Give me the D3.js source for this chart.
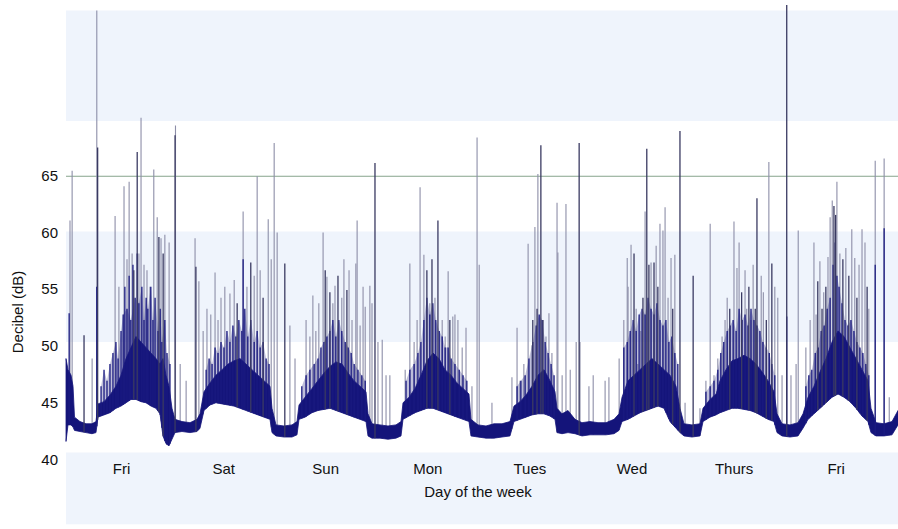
<!DOCTYPE html>
<html>
<head>
<meta charset="utf-8">
<script src="https://cdn.jsdelivr.net/npm/d3@7"></script>
<style>
  body { margin: 0; background: #fff; }
  svg { display: block; }
  text { font-family: "Liberation Sans", Arial, sans-serif; fill: #111; }
</style>
</head>
<body>
<div id="chart"></div>
<script>
// hours are counted from Friday 00:00
const dayLabels = ["Fri", "Sat", "Sun", "Mon", "Tues", "Wed", "Thurs", "Fri"];
const yTicks = [40, 45, 50, 55, 60, 65];
const limitDb = 65;

// lower edge of the trace and top of the dense core
const sampleHour = [-0.94, -0.47, 0.24, 0.71, 1.06, 2.35, 3.76, 5.17, 6.11, 6.58, 7.99, 9.4, 10.81, 11.99, 13.17, 14.34, 15.52, 16.69, 17.87, 19.04, 20.22, 21.16, 21.86, 22.57, 23.27, 23.98,
  24.69, 26.33, 28.21, 29.86, 30.56, 31.5, 32.91, 34.32, 35.74, 37.15, 38.56, 39.97, 41.38, 42.79, 44.2, 45.61, 47.02, 47.49,
  48.43, 50.31, 52.19, 53.37, 53.84, 55.25, 56.89, 58.3, 59.72, 61.13, 62.54, 63.95, 65.36, 66.77, 68.18, 69.59, 70.06,
  71.0, 72.88, 74.76, 76.64, 77.82, 78.29, 79.7, 81.11, 82.52, 83.93, 85.34, 86.75, 88.16, 89.57, 90.98, 92.39, 93.8, 94.27,
  95.92, 97.8, 99.68, 101.56, 103.44, 104.38, 105.8, 107.21, 108.62, 110.03, 111.44, 112.85, 114.02, 114.49, 115.67, 117.08, 118.73,
  120.37, 122.25, 124.13, 126.02, 127.9, 129.07, 129.78, 131.19, 132.6, 134.01, 135.42, 136.83, 138.24, 139.65, 141.06, 142.47, 143.41,
  144.35, 146.23, 148.11, 148.82, 150.46, 151.87, 152.82, 154.23, 155.64, 157.05, 158.46, 159.87, 161.28, 162.69, 164.1, 165.51, 166.22,
  167.39, 169.27, 171.15, 172.33, 173.51, 174.91, 176.33, 177.74, 179.15, 180.56, 181.97, 183.38, 184.79, 186.2, 187.61, 188.31,
  189.49, 191.37, 193.25, 194.66];
const floorDb = [41, 42.5, 42.5, 42.3, 42, 41.9, 41.8, 41.7, 41.8, 43.2, 43.4, 43.6, 44, 44.2, 44.5, 44.8, 44.8, 44.6, 44.5, 44.2, 44, 43.5, 41.5, 40.8, 40.6, 41.2,
  41.8, 41.9, 41.8, 41.9, 42.2, 43.8, 44.3, 44.5, 44.4, 44.3, 44.2, 44, 43.8, 43.6, 43.4, 43.2, 43, 41.8,
  41.5, 41.4, 41.4, 41.6, 43, 43.2, 43.6, 43.8, 43.9, 44, 43.8, 43.6, 43.4, 43.2, 43, 42.8, 41.5,
  41.3, 41.3, 41.2, 41.3, 41.5, 43, 43.3, 43.6, 43.8, 44, 44, 43.8, 43.6, 43.4, 43.2, 43, 42.8, 41.5,
  41.4, 41.3, 41.3, 41.4, 41.5, 42.8, 43, 43.2, 43.4, 43.5, 43.5, 43.3, 43, 41.8, 41.7, 41.8, 41.7,
  41.5, 41.6, 41.6, 41.6, 41.7, 42, 42.8, 43, 43.3, 43.6, 43.8, 44, 44.2, 44, 42.8, 42.2, 41.8,
  41.5, 41.4, 41.5, 42.8, 43.2, 43.4, 43.6, 43.8, 44, 44, 43.9, 43.8, 43.6, 43.3, 43, 42.8, 41.8,
  41.5, 41.4, 41.5, 42.2, 43, 43.5, 44, 44.5, 45, 45.3, 45, 44.6, 44, 43.3, 42.8, 41.8,
  41.5, 41.5, 41.6, 42.5];
const coreDb = [48.5, 47.5, 47, 46, 43.2, 42.8, 42.6, 42.6, 42.8, 44.4, 44.6, 45.2, 46, 47, 48.5, 49.5, 50.5, 50, 49.5, 49, 48.5, 48, 48.5, 47, 46, 44,
  43, 42.8, 42.7, 43, 43.5, 45.5, 46.3, 47, 47.5, 48, 48.3, 48.5, 48, 47.5, 47, 46.5, 46, 44,
  42.5, 42.4, 42.5, 42.8, 44.3, 45, 45.8, 46.5, 47.2, 47.8, 48.2, 48, 47.2, 46.5, 46, 45.5, 43.5,
  42.6, 42.5, 42.4, 42.5, 42.8, 44.5, 45, 45.8, 47, 48.3, 49, 48.5, 47.5, 47, 46.3, 45.8, 45.3, 43,
  42.5, 42.4, 42.6, 42.6, 42.8, 44.2, 44.6, 45.2, 46, 47, 47.5, 46.5, 45.5, 44, 43.5, 43.8, 43,
  42.7, 42.8, 42.7, 42.7, 43, 43.5, 45, 46.5, 47, 47.5, 48, 48.5, 48, 47.5, 47, 46, 44,
  42.6, 42.5, 42.6, 44, 44.8, 45.3, 46.5, 47.5, 48.3, 48.5, 48.8, 48.5, 48, 47.3, 46.5, 45.5, 43.5,
  42.6, 42.5, 42.7, 43.5, 45, 46, 47.3, 48.5, 50, 51, 50.5, 49.5, 48.5, 47.5, 46.5, 44,
  42.7, 42.6, 42.8, 43.8];

// isolated peaks, [hour, dB]
const greySpikes = [[0.0, 61], [0.5, 65.5], [5.2, 48.5], [6.3, 80], [10.6, 61.4], [11.5, 55], [12.7, 64.1], [13.4, 57.5], [13.9, 64.5], [14.6, 58],
  [16.2, 58], [16.7, 70.3], [17.4, 57], [18.1, 56.5], [18.8, 55], [19.7, 65.6], [20.5, 61.3], [21.4, 59.4], [22.3, 59.7], [23.3, 59],
  [24.8, 69.6], [25.9, 48], [27.3, 46.5], [29.4, 59.4], [30.3, 55.5],
  [31.3, 51], [32.2, 53], [33.1, 52.5], [34.1, 56.3], [34.8, 52], [35.5, 54], [36.4, 55], [37.6, 54.4], [38.6, 55.6], [40.7, 61.8],
  [41.6, 55], [43.3, 56], [44.0, 65], [44.7, 56.5], [46.6, 61.1], [47.3, 57.5], [48.0, 68], [48.7, 59.9], [51.7, 51.5], [52.9, 48.5],
  [55.5, 52], [56.4, 50.5], [57.1, 54.2], [57.8, 51], [58.5, 53.5], [59.5, 59.9], [60.4, 55.9], [61.8, 53.5], [62.3, 55.1], [63.9, 54],
  [64.4, 57.5], [65.6, 56.5], [66.3, 52], [67.2, 57.1], [67.5, 61], [68.2, 51.5], [68.9, 55], [69.4, 53.2], [70.5, 55.1], [71.0, 53.5],
  [72.4, 50], [73.4, 50.2], [74.3, 47], [75.2, 47],
  [78.8, 47.5], [79.9, 57.1], [80.9, 50], [81.6, 52], [82.3, 64], [83.2, 57.9], [84.6, 53.5], [85.8, 54], [87.5, 52], [88.2, 50.5],
  [88.9, 56.4], [90.0, 52.3], [90.5, 52.5], [91.2, 52], [92.2, 49.5], [93.1, 51.3], [94.5, 46], [95.7, 68.5], [96.2, 57], [99.2, 44.5],
  [103.9, 46.8], [105.1, 51.3], [105.8, 46.5], [106.7, 48], [107.7, 58.9], [108.6, 49.7], [109.3, 60.4], [110.0, 65.2], [111.9, 50.5],
  [112.6, 52.6], [113.3, 49], [114.5, 62.6], [114.7, 58.1], [115.7, 47], [116.6, 62.5], [117.6, 47.5], [119.0, 50], [119.9, 50],
  [122.0, 46], [123.0, 47], [125.8, 46.5], [126.7, 46.8], [129.1, 48.5],
  [130.2, 52], [131.0, 57.6], [131.2, 55], [131.9, 58.8], [133.1, 53], [133.5, 48], [134.2, 51], [135.2, 61.8], [136.6, 57.2], [137.8, 58.7],
  [138.7, 60.7], [139.4, 60.1], [139.9, 62.2], [140.6, 54], [141.3, 57.6], [142.2, 57.9], [144.6, 44.5], [148.1, 44], [149.5, 46.5],
  [150.5, 60.7], [151.4, 47],
  [152.3, 48.5], [153.3, 50.5], [154.0, 52], [154.5, 54], [156.1, 60.9], [156.8, 56.7], [157.3, 59], [158.7, 56.5], [159.1, 53], [160.1, 52],
  [160.6, 57], [162.5, 56], [163.0, 54.5], [164.3, 66.3], [165.7, 55], [166.4, 54], [167.4, 47], [169.5, 47], [170.7, 48], [171.2, 60.1],
  [173.0, 49.5], [174.0, 52], [174.9, 59], [175.4, 52.5], [176.3, 57.3], [177.2, 54.5], [178.2, 57.7], [178.7, 61.3], [179.2, 62.8],
  [180.3, 64.5], [181.0, 58], [182.4, 58.5], [183.8, 60.2], [184.5, 57.6], [185.5, 57], [186.2, 60.2], [186.9, 59], [187.8, 53],
  [189.3, 66.4], [191.4, 66.6], [192.6, 45]];

const darkSpikes = [[3.3, 50.6], [6.5, 67.6], [15.0, 56.5], [15.8, 67.2], [20.9, 59.5], [21.9, 58], [24.7, 68.7], [29.6, 56.8],
  [39.3, 53.5], [42.5, 57.2], [45.4, 54], [50.5, 57.1], [60.0, 56.5], [61.1, 54.5], [63.0, 56], [65.1, 54.7], [71.7, 66.2],
  [83.9, 56.5], [85.1, 57.5], [86.5, 61], [89.3, 52], [108.8, 52], [109.8, 53], [110.7, 67.8], [111.2, 52], [119.7, 68],
  [132.6, 58], [134.7, 54], [135.6, 67.5], [136.1, 57], [137.3, 57.2], [138.2, 55], [141.7, 53], [143.4, 69.1], [146.5, 56],
  [155.1, 53], [157.9, 54.5], [159.6, 55], [161.1, 53], [161.5, 63], [163.7, 52], [165.0, 57.1], [168.5, 80.5],
  [175.8, 55.5], [176.8, 53], [177.7, 55], [179.6, 62.3], [180.0, 61.5], [181.7, 57.5], [183.1, 56], [185.0, 54], [187.4, 55]];

// dense navy bursts inside the busy hours
const clusterSpikes = [[-0.2, 52.6], [6.3, 55], [7.3, 46], [8.0, 47.5], [8.7, 46.5], [9.4, 48], [10.1, 49], [10.8, 50], [11.3, 48.5], [12.0, 51],
  [12.5, 52.5], [12.9, 55], [13.4, 53], [13.9, 56], [14.3, 52], [14.8, 57], [15.3, 54], [15.8, 58], [16.2, 53.5], [16.9, 55], [17.4, 52],
  [17.9, 54], [18.3, 53], [19.0, 55], [19.5, 52], [20.0, 54], [20.7, 51], [21.2, 53], [21.6, 50], [22.3, 52], [22.8, 49], [23.5, 48],
  [32.0, 47.5], [32.7, 48.5], [33.4, 48], [34.1, 49.5], [34.8, 49], [35.5, 50], [36.2, 49.5], [36.9, 51], [37.6, 50], [38.3, 51.5],
  [39.0, 50.5], [39.7, 52], [40.4, 51], [40.7, 57.5], [41.1, 53], [41.8, 50.5], [42.5, 52], [43.3, 50], [44.0, 51], [44.7, 49.5],
  [45.4, 50], [46.1, 48.5], [46.8, 48],
  [54.5, 46], [55.5, 47], [56.4, 47.5], [57.4, 48], [58.3, 48.5], [59.0, 49.5], [59.7, 50], [60.4, 50.5], [61.1, 51], [61.8, 52],
  [62.5, 50.5], [63.2, 52], [63.9, 51], [64.7, 50], [65.4, 49.5], [66.1, 49], [66.8, 48], [67.7, 47.5], [68.6, 47], [69.4, 46.5],
  [79.0, 46.5], [79.9, 47.5], [80.9, 48], [81.8, 49], [82.5, 50], [83.2, 52], [83.9, 54], [84.6, 52.5], [85.3, 53.5], [86.0, 52],
  [86.8, 51], [87.5, 50.5], [88.2, 49.5], [88.9, 49.5], [89.6, 48.5], [90.5, 48], [91.5, 47.5], [92.4, 47], [93.3, 46.5],
  [105.1, 46], [106.0, 46.5], [107.0, 47], [107.9, 48.5], [108.8, 50], [109.6, 51.5], [110.3, 52.5], [111.0, 52], [111.7, 50],
  [112.4, 49], [113.1, 48], [113.8, 47],
  [130.2, 49.5], [131.0, 50], [131.7, 51], [132.4, 52], [133.1, 51], [133.8, 52.5], [134.5, 53], [135.2, 52.5], [135.9, 54], [136.6, 53],
  [137.3, 52.5], [138.0, 53.5], [138.7, 52], [139.4, 51.5], [140.1, 52], [140.8, 50], [141.5, 50.5], [142.2, 49], [142.9, 48],
  [149.5, 45.5], [150.5, 46], [151.4, 46.5], [152.3, 47.5], [153.0, 49], [153.7, 50], [154.5, 51], [155.2, 51.5], [155.9, 52], [156.6, 51],
  [157.3, 53], [158.0, 52], [158.7, 52.5], [159.4, 51.5], [160.1, 53], [160.8, 52], [161.5, 51.5], [162.2, 51], [162.9, 50], [163.7, 49.5],
  [164.4, 49], [165.0, 48], [165.7, 47], [168.5, 52.3],
  [173.0, 46], [173.7, 47], [174.4, 47.5], [175.2, 49], [175.9, 49.5], [176.6, 51], [177.3, 51.5], [178.0, 53], [178.7, 54], [179.4, 57],
  [179.9, 59], [180.3, 56], [180.8, 55], [181.5, 53.5], [182.2, 52], [182.9, 51.5], [183.6, 52], [184.3, 51], [185.0, 50], [185.7, 49.5],
  [186.4, 49], [187.1, 48], [187.8, 47], [189.3, 57], [191.4, 60.3]];

const width = 898, height = 529;
const left = 66, right = 898;

const svg = d3.select('#chart')
  .append('svg')
  .attr('width', width)
  .attr('height', height);

const x = d3.scaleLinear()
  .domain([d3.min(sampleHour), d3.max(sampleHour)])
  .range([left, right]);

const y = d3.scaleLinear()
  .domain([40, 80])
  .range([452.5, 10.5]);

// base of each spike follows the trace floor
const floorAt = d3.scaleLinear().domain(sampleHour).range(floorDb).clamp(true);
const coreAt = d3.scaleLinear().domain(sampleHour).range(coreDb).clamp(true);

// shaded bands
const bands = [[70, 80], [50, 60], [33.5, 40]];
svg.selectAll('.band')
  .data(bands)
  .enter()
  .append('rect')
  .attr('x', left)
  .attr('width', right - left)
  .attr('y', d => y(d[1]))
  .attr('height', d => y(d[0]) - y(d[1]))
  .attr('fill', '#eff4fc');

// 65 dB guide
svg.append('line')
  .attr('x1', left).attr('x2', right)
  .attr('y1', y(limitDb)).attr('y2', y(limitDb))
  .attr('stroke', '#86a48c')
  .attr('stroke-width', 1);

function drawSpikes(data, color, w) {
  svg.append('g')
    .selectAll('line')
    .data(data)
    .enter()
    .append('line')
    .attr('x1', d => x(d[0]))
    .attr('x2', d => x(d[0]))
    .attr('y1', d => y(floorAt(d[0])))
    .attr('y2', d => y(d[1]))
    .attr('stroke', color)
    .attr('stroke-width', w);
}

drawSpikes(greySpikes, '#8d8ea8', 1.1);

// ragged haze between the core and the burst tops, broken at quiet gaps
const haze = [];
clusterSpikes
  .filter(d => d[1] - coreAt(d[0]) < 6)
  .forEach((d, i, arr) => {
    if (i > 0 && d[0] - arr[i - 1][0] > 1.6) haze.push(null);
    haze.push({ h: d[0], lo: coreAt(d[0]), hi: d[1] });
  });
svg.append('path')
  .datum(haze)
  .attr('fill', '#2a2a86')
  .attr('fill-opacity', 0.3)
  .attr('d', d3.area()
    .defined(d => d !== null)
    .x(d => x(d.h))
    .y0(d => y(d.lo))
    .y1(d => y(d.hi)));

const series = sampleHour.map((h, i) => ({ h, lo: floorDb[i], hi: coreDb[i] }));
svg.append('path')
  .datum(series)
  .attr('fill', '#14147a')
  .attr('stroke', '#14147a')
  .attr('stroke-width', 0.8)
  .attr('d', d3.area()
    .x(d => x(d.h))
    .y0(d => y(d.lo))
    .y1(d => y(d.hi)));

drawSpikes(clusterSpikes, '#1a1a80', 1.3);
drawSpikes(darkSpikes, '#3a3a62', 1.3);

// axes, labels only
const xAxis = svg.append('g')
  .attr('transform', `translate(0, ${y(40)})`)
  .call(d3.axisBottom(x)
    .tickValues(dayLabels.map((d, i) => 12 + 24 * i))
    .tickFormat((d, i) => dayLabels[i])
    .tickSize(0)
    .tickPadding(11));
xAxis.select('.domain').remove();
xAxis.selectAll('text').style('font-size', '15px').style('font-family', '"Liberation Sans", Arial, sans-serif');

const yAxis = svg.append('g')
  .attr('transform', `translate(${left}, 0)`)
  .call(d3.axisLeft(y)
    .tickValues(yTicks)
    .tickSize(0)
    .tickPadding(8));
yAxis.select('.domain').remove();
yAxis.selectAll('text')
  .attr('dy', d => (4 + (65 - d) * 0.3) + 'px')
  .style('font-size', '15px')
  .style('font-family', '"Liberation Sans", Arial, sans-serif');

svg.append('text')
  .attr('x', 478)
  .attr('y', 497)
  .attr('text-anchor', 'middle')
  .style('font-size', '15px')
  .text('Day of the week');

svg.append('text')
  .attr('transform', 'rotate(-90)')
  .attr('x', -312)
  .attr('y', 23)
  .attr('text-anchor', 'middle')
  .style('font-size', '15px')
  .text('Decibel (dB)');
</script>
</body>
</html>
